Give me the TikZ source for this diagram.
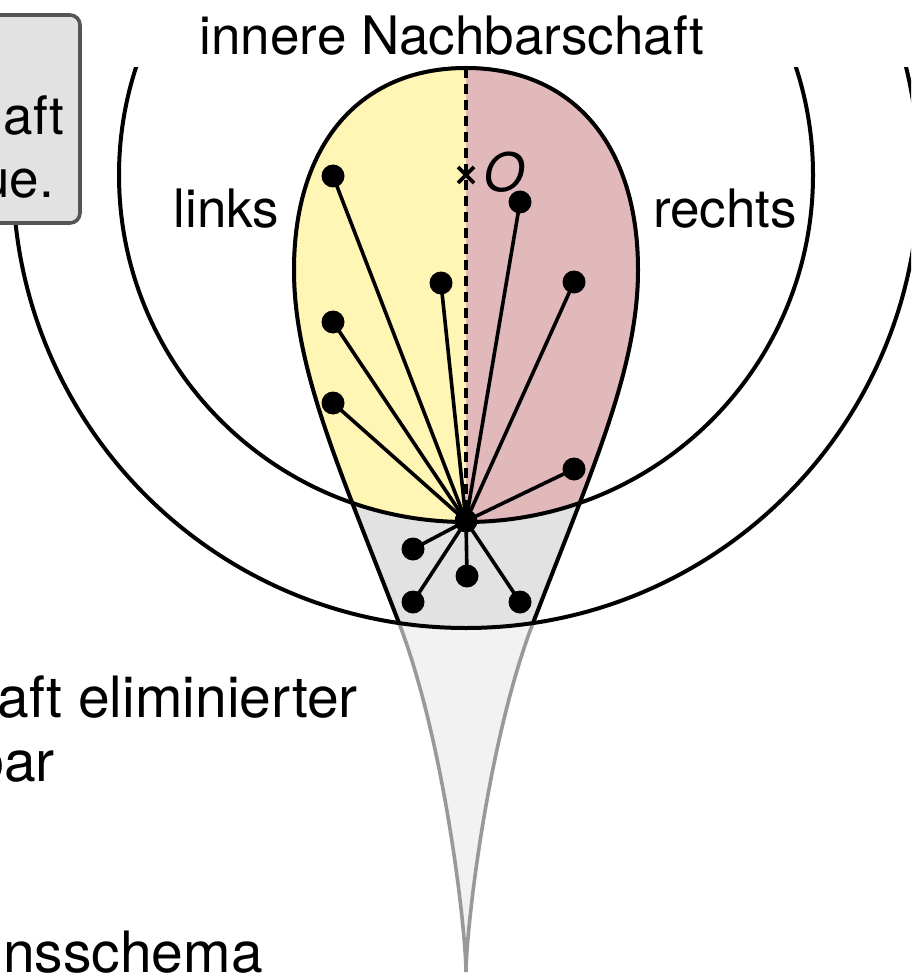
\documentclass[tikz,border=0pt]{standalone}
\usepackage{fontspec}
\setmainfont{TeX Gyre Heros}
\definecolor{leftfill}{HTML}{FFF5B5}
\definecolor{rightfill}{HTML}{E1B9BB}
\definecolor{midfill}{HTML}{E2E2E2}
\definecolor{tailfill}{HTML}{F2F2F2}
\definecolor{tailline}{HTML}{999999}
\definecolor{boxfill}{HTML}{E2E2E2}
\definecolor{boxline}{HTML}{555555}
% outline of the drop-shaped region (symmetric about x = 466)
\def\droppath{(466,68) .. controls (359,68) and (294,145) .. (294,270)
  .. controls (294,370) and (341.5,473) .. (399,623)
  .. controls (445,743) and (466,932) .. (466,972)
  .. controls (466,932) and (487,743) .. (533,623)
  .. controls (590.5,473) and (638,370) .. (638,270)
  .. controls (638,145) and (573,68) .. (466,68) -- cycle}
\begin{document}
\begin{tikzpicture}[x=1pt,y=-1pt,
  edge/.style={line width=4pt},
  spoke/.style={line width=3.6pt},
  dot/.style={circle,fill=black,inner sep=0pt,minimum size=23pt},
  lbl/.style={inner sep=0pt,font=\fontsize{53}{60}\selectfont},
  bodytext/.style={inner sep=0pt,font=\fontsize{57}{62}\selectfont},
  divider/.style={line width=3.6pt,dash pattern=on 10pt off 6pt}
]
\useasboundingbox (0,0) rectangle (911,976);
\clip (0,0) rectangle (911,976);

\coordinate (O) at (466,175);
\coordinate (top) at (466,68);

% tail of the drop outside the outer neighbourhood
\filldraw[fill=tailfill,draw=tailline,line width=3.6pt] \droppath;

% part of the drop inside the outer circle
\begin{scope}
  \clip (O) circle[radius=453];
  \fill[midfill] \droppath;
  \begin{scope}
    \clip (O) circle[radius=347];
    \clip \droppath;
    \fill[leftfill] (0,0) rectangle (466,976);
    \fill[rightfill] (466,0) rectangle (911,976);
  \end{scope}
  \draw[edge] \droppath;
\end{scope}

% inner and outer neighbourhood circles
\begin{scope}
  \clip (-20,68) rectangle (1000,1100);
  \draw[edge] (O) circle[radius=347];
  \draw[edge] (O) circle[radius=453];
\end{scope}

% separator between left and right half
\draw[divider] (top) -- (466,521);

% centre mark
\draw[line width=3.6pt] (O) +(-8,-8) -- +(8,8) (O) +(-8,8) -- +(8,-8);
\node[lbl,anchor=base west] (olabel) at (483,192) {\itshape O};

% vertices
\node[dot] (hub) at (466,521) {};
\node[dot] (l1) at (333,176) {};
\node[dot] (l2) at (441,283) {};
\node[dot] (l3) at (333,322) {};
\node[dot] (l4) at (333,403) {};
\node[dot] (r1) at (520,202) {};
\node[dot] (r2) at (574,282) {};
\node[dot] (r3) at (574,469) {};
\node[dot] (b1) at (413,549) {};
\node[dot] (b2) at (413,602) {};
\node[dot] (b3) at (467,576) {};
\node[dot] (b4) at (520,602) {};

\foreach \v in {l1,l2,l3,l4,r1,r2,r3,b1,b2,b3,b4}
  \draw[spoke] (hub.center) -- (\v.center);

% labels
\node[lbl,anchor=base west] (inner) at (199.5,55) {innere Nachbarschaft};
\node[lbl,anchor=base west] (links) at (173.5,228) {links};
\node[lbl,anchor=base west] (rechts) at (653,228) {rechts};

% note box on the left
\draw[fill=boxfill,draw=boxline,line width=3.6pt,rounded corners=10pt]
  (-40,15) rectangle (80,223);
\node[lbl,anchor=base east] (note1) at (64,135) {aft};
\node[lbl,anchor=base east] (note2) at (54,198) {ue.};

% running text
\node[bodytext,anchor=base east] (txt1) at (358,717) {aft eliminierter};
\node[bodytext,anchor=base east] (txt2) at (55,781) {bar};
\node[bodytext,anchor=base east] (txt3) at (263,972) {nsschema};
\end{tikzpicture}
\end{document}
